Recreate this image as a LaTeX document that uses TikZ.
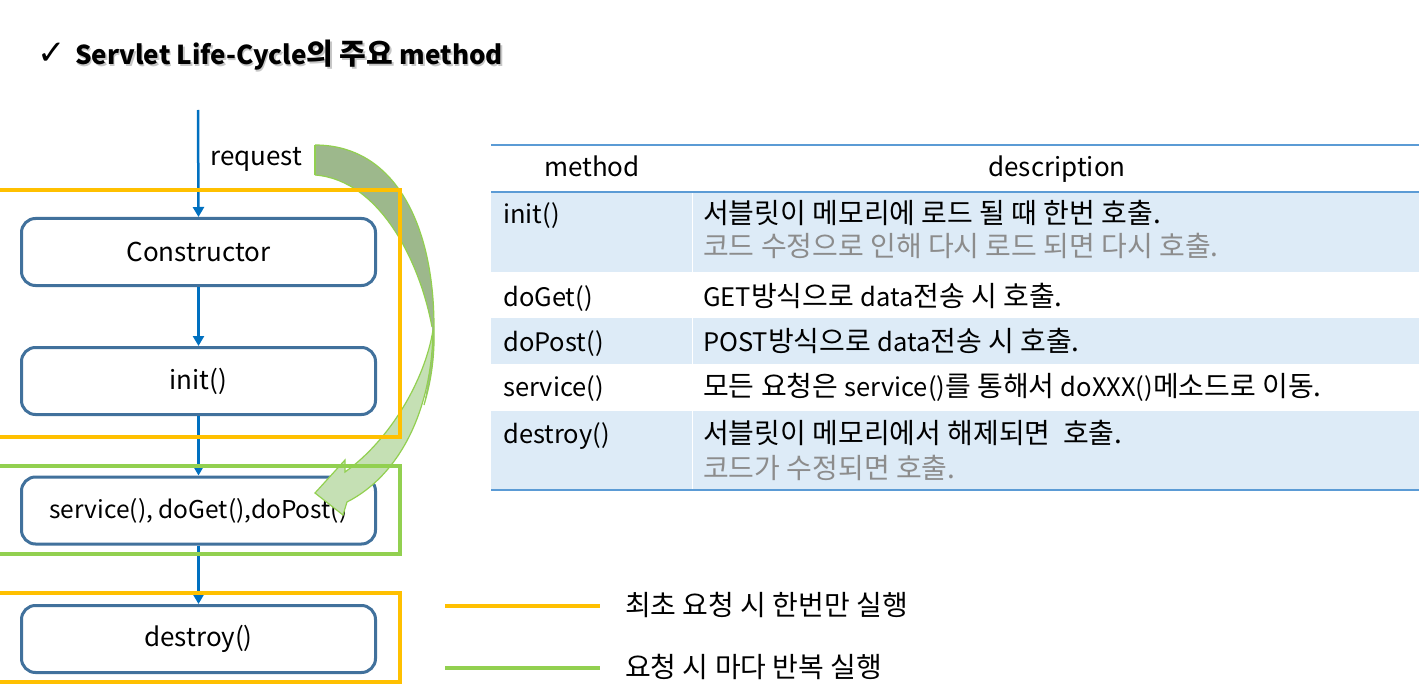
\documentclass[tikz,border=0pt]{standalone}
\usepackage{fontspec}
\setmainfont{Noto Sans CJK KR}
\newfontfamily\symfont{DejaVu Sans}
\usetikzlibrary{arrows.meta}
\definecolor{orangeY}{HTML}{FFC000}
\definecolor{greenL}{HTML}{92D050}
\definecolor{boxblue}{HTML}{41719C}
\definecolor{arrblue}{HTML}{0070C0}
\definecolor{rowfill}{HTML}{DDEBF7}
\definecolor{tline}{HTML}{5B9BD5}
\definecolor{graytxt}{HTML}{8C8C8C}
\definecolor{darkribbon}{HTML}{9DB88C}
\definecolor{lightribbon}{HTML}{C5E0B4}
\newcommand{\kosz}{\fontsize{28}{30}\selectfont}
\newcommand{\lasz}{\fontsize{25.5}{30}\selectfont}
\begin{document}
\begin{tikzpicture}[x=1pt,y=-1pt,
  stepbox/.style={draw=boxblue, line width=3pt, rounded corners=14pt, fill=white,
    minimum width=354pt, minimum height=67pt, inner sep=0pt, font=\fontsize{26}{28}\selectfont},
  flow/.style={draw=arrblue, line width=2.5pt, -{Triangle[width=11pt,length=10pt]}},
  txt/.style={anchor=base west, inner sep=0pt, font=\lasz},
  gtxt/.style={txt, text=graytxt},
  hdr/.style={anchor=base, inner sep=0pt, font=\fontsize{26}{28}\selectfont},
  frameO/.style={draw=orangeY, line width=4.5pt},
  frameG/.style={draw=greenL, line width=4.5pt},
  ribbon/.style={draw=greenL, line width=1.2pt}
]
\useasboundingbox (0,0) rectangle (1419,687);
\fill[white] (0,0) rectangle (1419,687);

% title
\node[anchor=base west, inner sep=0pt, font=\symfont\fontsize{34}{36}\selectfont] (check) at (37,65) {✓};
\node[anchor=base west, inner sep=0pt, font=\bfseries, text=black!22] (titleshadow) at (76.5,66.5)
  {\fontsize{26}{30}\selectfont Servlet Life-Cycle\fontsize{29}{30}\selectfont 의 주요 \fontsize{26}{30}\selectfont method};
\node[anchor=base west, inner sep=0pt, font=\bfseries] (title) at (75,65)
  {\fontsize{26}{30}\selectfont Servlet Life-Cycle\fontsize{29}{30}\selectfont 의 주요 \fontsize{26}{30}\selectfont method};

% boxes
\node[stepbox] (cons) at (198.5,252) {Constructor};
\node[stepbox] (init) at (198.5,381) {init()};
\node[stepbox, font=\fontsize{24.5}{28}\selectfont] (serv) at (198.5,510.5) {service(), doGet(),doPost()};
\node[stepbox] (dest) at (198.5,639) {destroy()};

% request
\coordinate (req) at (198,110);
\node[txt, font=\fontsize{26}{28}\selectfont] (reqlbl) at (210,166) {request};
\draw[flow] (req) -- (cons.north);
\draw[flow] (cons.south) -- (init.north);
\draw[flow] (init.south) -- (serv.north);
\draw[flow] (serv.south) -- (dest.north);

% curved ribbon arrow
\fill[darkribbon] (315,145) .. controls (395,145) and (434,225) .. (434,327)
  .. controls (435,360) and (430,385) .. (424,405)
  .. controls (430,370) and (433,345) .. (432,327)
  .. controls (420,262) and (380,180) .. (315,175) -- cycle;
\draw[ribbon] (315,145) .. controls (395,145) and (434,225) .. (434,327)
  .. controls (435,360) and (430,385) .. (424,405);
\draw[ribbon] (432,327) .. controls (420,262) and (380,180) .. (315,175);
\draw[ribbon] (315,145) -- (315,175);
\filldraw[ribbon, fill=lightribbon] (433,330) .. controls (425,380) and (390,440) .. (345,472)
  -- (345,460) -- (315,493) -- (343,515) -- (347,502)
  .. controls (400,475) and (432,410) .. (433,330) -- cycle;

% frames
\draw[frameO] (-5,190) rectangle (400,437);
\draw[frameG] (-5,466) rectangle (400,554);
\draw[frameO] (-5,593) rectangle (400,682);

% table
\fill[rowfill] (491,192) rectangle (1419,272);
\fill[rowfill] (491,318) rectangle (1419,364);
\fill[rowfill] (491,411) rectangle (1419,490);
\draw[white, line width=0.8pt] (692,192) -- (692,272) (692,318) -- (692,364) (692,411) -- (692,490);
\draw[tline, line width=1.5pt] (491,145) -- (1419,145);
\draw[tline, line width=1.5pt] (491,192) -- (1419,192);
\draw[tline, line width=1.5pt] (491,490) -- (1419,490);

\node[hdr] (hm) at (592,177) {method};
\node[hdr] (hd) at (1057,177) {description};

\node[txt] (m1) at (503,224) {init()};
\node[txt] (m2) at (503,306) {doGet()};
\node[txt] (m3) at (503,351) {doPost()};
\node[txt] (m4) at (503,396) {service()};
\node[txt] (m5) at (503,443) {destroy()};

\node[txt] (d1) at (703,224) {\kosz 서블릿이 메모리에 로드 될 때 한번 호출.};
\node[gtxt] (d1b) at (703,257) {\kosz 코드 수정으로 인해 다시 로드 되면 다시 호출.};
\node[txt] (d2) at (703,306) {GET{\kosz 방식으로 }data{\kosz 전송 시 호출.}};
\node[txt] (d3) at (703,351) {POST{\kosz 방식으로 }data{\kosz 전송 시 호출.}};
\node[txt] (d4) at (703,396) {{\kosz 모든 요청은 }service(){\kosz 를 통해서 }doXXX(){\kosz 메소드로 이동.}};
\node[txt] (d5) at (703,443) {\kosz 서블릿이 메모리에서 해제되면~~호출.};
\node[gtxt] (d5b) at (703,478) {\kosz 코드가 수정되면 호출.};

% legend
\coordinate (lo1) at (445,606);
\coordinate (lo2) at (600,606);
\coordinate (lg1) at (445,668);
\coordinate (lg2) at (600,668);
\draw[orangeY, line width=4pt] (lo1) -- (lo2);
\draw[greenL, line width=4pt] (lg1) -- (lg2);
\node[txt, font=\fontsize{28}{30}\selectfont] (l1) at (625,615) {최초 요청 시 한번만 실행};
\node[txt, font=\fontsize{28}{30}\selectfont] (l2) at (625,677) {요청 시 마다 반복 실행};
\end{tikzpicture}
\end{document}
